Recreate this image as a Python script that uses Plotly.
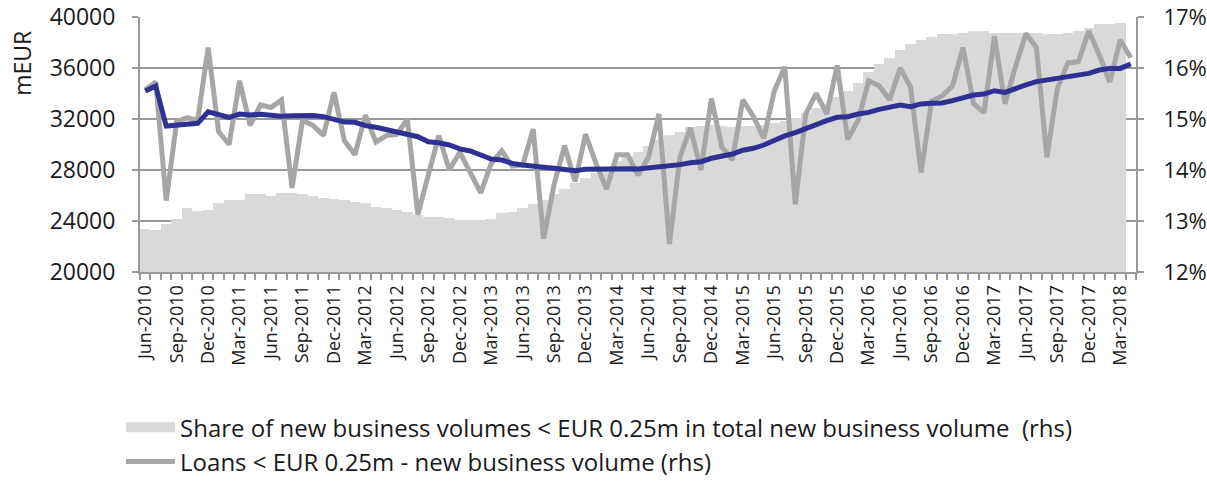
import pandas as pd
import plotly.graph_objects as go

months = [d.strftime("%b-%Y") for d in pd.date_range("2010-06-01", "2018-04-01", freq="MS")]

loans = [34300, 34900, 25600, 31800, 32100, 31900, 37600, 31000, 30000, 35000,
         31500, 33100, 32900, 33500, 26600, 31900, 31500, 30700, 34100, 30300,
         29200, 32300, 30200, 30700, 30800, 32000, 24500, 27500, 30700, 28000,
         29400, 27800, 26200, 28500, 29500, 28300, 28400, 31200, 22600, 26900,
         29900, 27100, 30800, 28500, 26500, 29200, 29200, 27600, 29000, 32400,
         22200, 29000, 31300, 28000, 33600, 29800, 28800, 33500, 32200, 30500,
         34200, 36100, 25300, 32400, 34000, 32400, 36200, 30400, 31900, 35000,
         34600, 33500, 36000, 34500, 27800, 33400, 33800, 34600, 37600, 33200,
         32500, 38500, 33200, 36100, 38700, 37600, 29000, 34400, 36400, 36500,
         38900, 37000, 34900, 38200, 36800]

trend = [34200, 34590, 31450, 31530, 31610, 31660, 32570, 32390, 32130, 32390,
         32310, 32370, 32290, 32210, 32250, 32270, 32270, 32180, 31920, 31760,
         31740, 31480, 31350, 31140, 30930, 30820, 30610, 30220, 30140, 29960,
         29650, 29490, 29180, 28860, 28780, 28520, 28390, 28260, 28210, 28130,
         28050, 27950, 28050, 28080, 28100, 28130, 28100, 28080, 28160, 28210,
         28260, 28420, 28570, 28650, 28920, 29040, 29250, 29550, 29700, 29960,
         30350, 30670, 30930, 31270, 31530, 31870, 32130, 32180, 32390, 32520,
         32760, 32960, 33100, 32960, 33180, 33230, 33250, 33440, 33620, 33880,
         33960, 34220, 34090, 34410, 34670, 34930, 35060, 35110, 35320, 35450,
         35580, 35840, 35970, 35970, 36310]

share = [12.84, 12.82, 12.94, 13.04, 13.26, 13.20, 13.22, 13.36, 13.41, 13.42,
         13.52, 13.52, 13.50, 13.54, 13.54, 13.52, 13.50, 13.46, 13.44, 13.42,
         13.38, 13.35, 13.28, 13.25, 13.22, 13.17, 13.12, 13.08, 13.07, 13.05,
         13.02, 13.01, 13.01, 13.04, 13.15, 13.18, 13.25, 13.33, 13.42, 13.52,
         13.62, 13.74, 13.85, 13.95, 14.06, 14.18, 14.28, 14.36, 14.48, 14.58,
         14.68, 14.75, 14.84, 14.86, 14.88, 14.86, 14.84, 14.86, 14.87, 14.88,
         14.92, 14.96, 15.01, 15.11, 15.21, 15.30, 15.43, 15.54, 15.71, 15.93,
         16.07, 16.20, 16.35, 16.47, 16.54, 16.61, 16.66, 16.67, 16.69, 16.73,
         16.72, 16.69, 16.68, 16.69, 16.69, 16.68, 16.67, 16.66, 16.68, 16.72,
         16.78, 16.86, 16.87, 16.89, None]

tick_text = [m if i % 3 == 0 else "" for i, m in enumerate(months)]

share_name = "Share of new business volumes < EUR 0.25m in total new business volume  (rhs)"
loans_name = "Loans < EUR 0.25m - new business volume (rhs)"

FONT = "Open Sans"
TXT = "#1a1a1a"
GRID = "#999999"
AREA = "#d9d9d9"

fig = go.Figure()
fig.add_trace(go.Bar(
    x=months, y=share, yaxis="y", name=share_name, showlegend=False,
    legendgroup="share",
    marker=dict(color=AREA, line=dict(width=0)),
))
# legend entry for the share series (wide rectangle swatch)
fig.add_trace(go.Scatter(
    x=[None], y=[None], yaxis="y", mode="lines", name=share_name,
    legendgroup="share", line=dict(color=AREA, width=16),
))
fig.add_trace(go.Scatter(
    x=months, y=loans, yaxis="y2", mode="lines", name=loans_name,
    line=dict(color="#a6a6a6", width=5),
))
fig.add_trace(go.Scatter(
    x=months, y=trend, yaxis="y2", mode="lines", showlegend=False,
    line=dict(color="#2e3192", width=5),
))

fig.update_layout(
    width=1207, height=482,
    margin=dict(l=140, r=71, t=17, b=210, autoexpand=False),
    paper_bgcolor="white", plot_bgcolor="white",
    font=dict(family=FONT, color=TXT, size=20),
    bargap=0,
    showlegend=True,
    legend=dict(
        x=-0.019, y=-0.522, xanchor="left", yanchor="top",
        orientation="v", font=dict(size=24, color=TXT),
        itemwidth=49, bgcolor="rgba(0,0,0,0)", tracegroupgap=0,
    ),
    xaxis=dict(
        type="category", tickmode="array", tickvals=months, ticktext=tick_text,
        tickangle=-90, tickson="boundaries", ticks="outside", ticklen=6,
        tickcolor=GRID, tickwidth=2, showline=True, linecolor=GRID, linewidth=2,
        showgrid=False, tickfont=dict(size=18, color=TXT), ticklabelstandoff=4,
        range=[-0.5, len(months) - 0.5], automargin=False,
    ),
    yaxis=dict(
        side="right", range=[12, 17], dtick=1, ticksuffix="%",
        showgrid=False, zeroline=False, showline=True, linecolor=GRID, linewidth=2,
        ticks="outside", ticklen=6, tickcolor=GRID, tickwidth=2,
        ticklabelstandoff=15, tickfont=dict(size=22, color=TXT), automargin=False,
        ticklabeloverflow="allow",
    ),
    yaxis2=dict(
        overlaying="y", side="left", range=[20000, 40000], dtick=4000,
        tickformat="d", showgrid=True, gridcolor=GRID, gridwidth=2,
        zeroline=False, showline=True, linecolor=GRID, linewidth=2,
        ticks="outside", ticklen=6, tickcolor=GRID, tickwidth=2,
        ticklabelstandoff=12, tickfont=dict(size=23, color=TXT), automargin=False,
        ticklabeloverflow="allow",
    ),
    annotations=[dict(
        text="mEUR", xref="paper", yref="paper", x=-0.1185, y=0.82,
        xanchor="center", yanchor="middle", textangle=-90, showarrow=False,
        font=dict(size=23, color=TXT),
    )],
)

fig.write_html(
    "out.html",
    config={"displayModeBar": False},
    post_script="document.body.style.margin='0';document.body.style.overflow='hidden';",
)
